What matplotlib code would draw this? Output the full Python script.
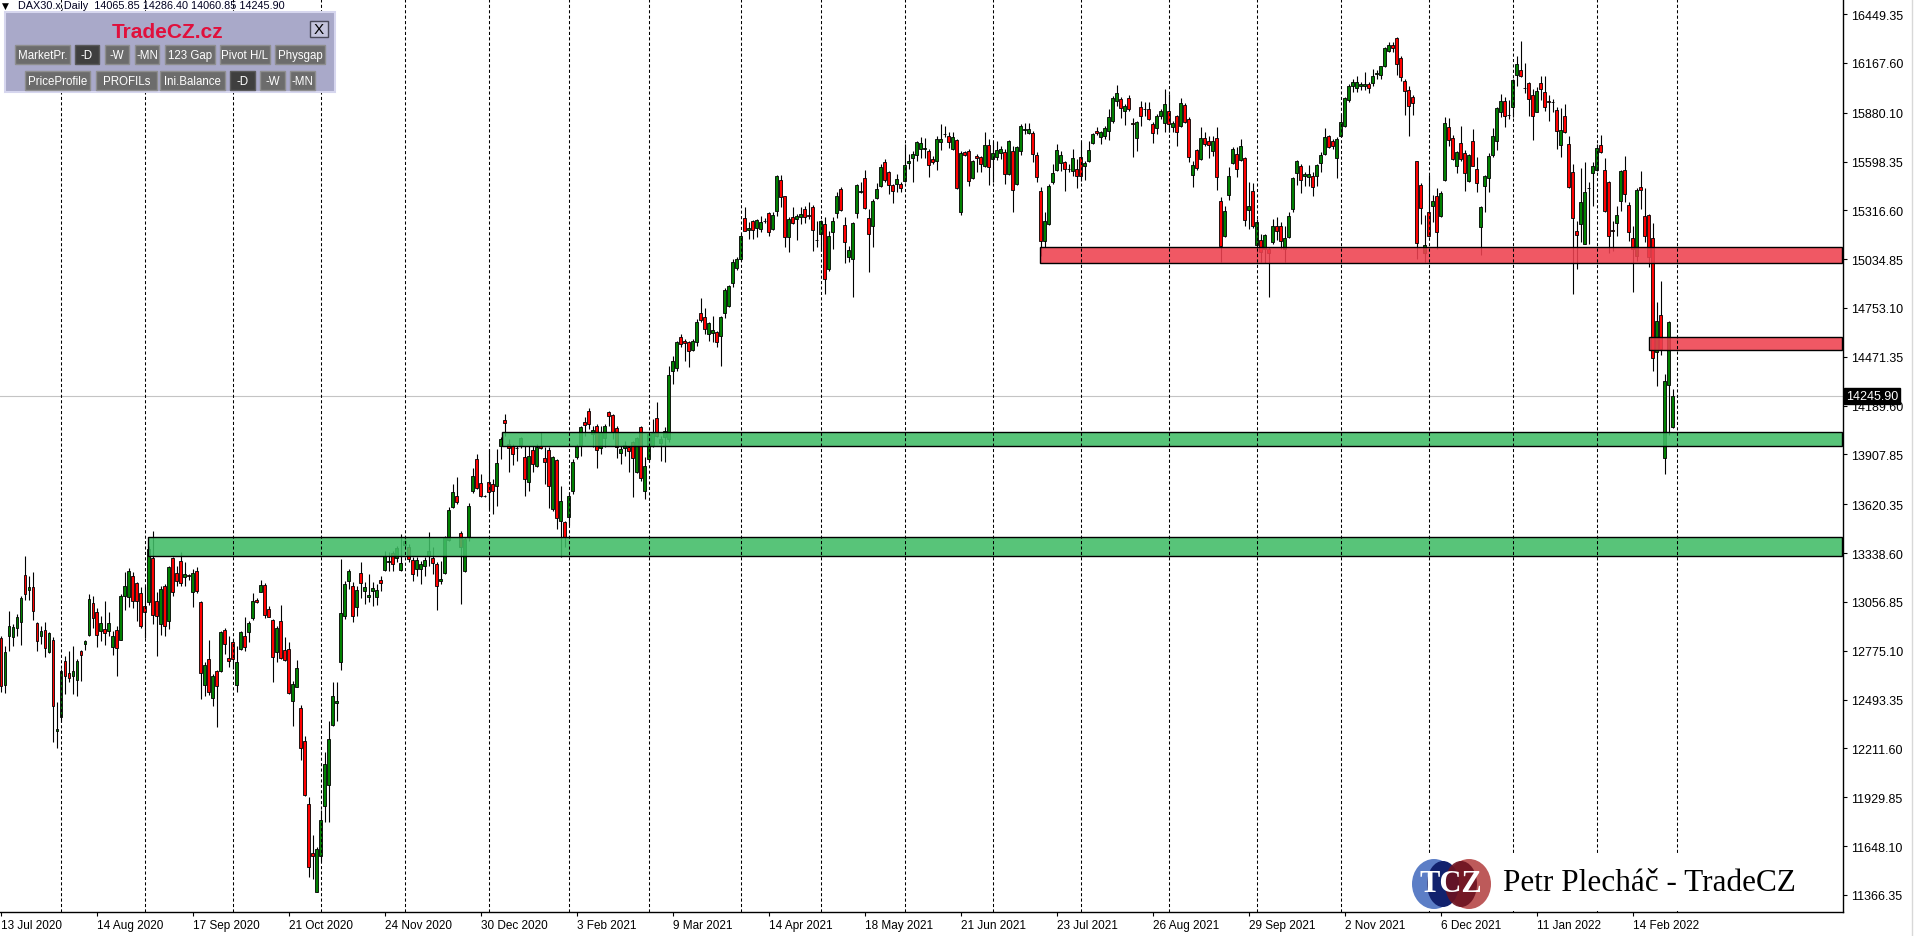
import numpy as np
import matplotlib
matplotlib.use('Agg')
import matplotlib.pyplot as plt
import matplotlib.transforms as mtransforms
from matplotlib.colors import to_rgba
from matplotlib.patches import Rectangle, Ellipse

plt.rcParams['font.family'] = ['Liberation Sans', 'DejaVu Sans']

# daily bars, 13 Jul 2020 .. 28 Feb 2022 (index = trading day)
opens = [
    12847, 12580, 12858, 12853, 12907, 12943, 13212, 13124, 13141, 12934,
    12858, 12895, 12766, 12837, 12310, 12395, 12714, 12645, 12628, 12608,
    12772, 12814, 12866, 13051, 12997, 12887, 12901, 12891, 12799, 12895,
    12839, 13093, 13087, 13205, 13166, 13109, 13032, 13058, 13308, 13060,
    12930, 13151, 12945, 13308, 13224, 13291, 13199, 13208, 13112, 13237,
    13058, 12580, 12728, 12501, 12657, 12660, 12895, 12732, 12824, 12580,
    12785, 12858, 12882, 12964, 13068, 13116, 13155, 13016, 12953, 12766,
    12945, 12780, 12785, 12487, 12568, 12443, 12255, 11891, 11608, 11381,
    11589, 11878, 12003, 12349, 12474, 12708, 12978, 13180, 13147, 13030,
    13224, 13118, 13083, 13122, 13083, 13185, 13243, 13289, 13339, 13309,
    13241, 13385, 13376, 13299, 13247, 13247, 13266, 13324, 13309, 13276,
    13180, 13224, 13416, 13603, 13666, 13455, 13237, 13430, 13695, 13882,
    13741, 13668, 13751, 13737, 13728, 13959, 14107, 13968, 13959, 13945,
    13962, 13891, 13751, 13934, 13843, 13959, 13887, 13934, 13593, 13878,
    13522, 13516, 13549, 13699, 13895, 13959, 14093, 14161, 14026, 14074,
    13945, 14001, 14155, 14137, 14059, 13914, 13943, 13949, 13978, 13805,
    14064, 13699, 13882, 13959, 14116, 13972, 14007, 13997, 14391, 14405,
    14588, 14561, 14559, 14513, 14559, 14722, 14699, 14603, 14607, 14617,
    14590, 14722, 14766, 14895, 14982, 15036, 15272, 15205, 15253, 15213,
    15209, 15253, 15299, 15209, 15315, 15492, 15397, 15161, 15276, 15266,
    15276, 15324, 15288, 15334, 15147, 15180, 15238, 14978, 15190, 15299,
    15440, 15232, 15045, 15036, 15301, 15420, 15501, 15270, 15224, 15388,
    15455, 15593, 15536, 15463, 15469, 15469, 15484, 15590, 15617, 15636,
    15670, 15670, 15657, 15613, 15603, 15713, 15757, 15744, 15670, 15722,
    15309, 15655, 15661, 15503, 15632, 15626, 15574, 15693, 15613, 15626,
    15645, 15655, 15526, 15661, 15469, 15661, 15780, 15761, 15761, 15638,
    15430, 15141, 15237, 15478, 15551, 15590, 15593, 15553, 15541, 15555,
    15622, 15570, 15599, 15703, 15772, 15738, 15747, 15776, 15834, 15949,
    15959, 15892, 15963, 15818, 15732, 15911, 15901, 15901, 15815, 15790,
    15859, 15820, 15888, 15795, 15859, 15801, 15924, 15844, 15522, 15665,
    15613, 15734, 15715, 15657, 15732, 15368, 15170, 15405, 15588, 15641,
    15607, 15617, 15320, 15426, 15118, 15147, 15093, 15093, 15132, 15224,
    15228, 15093, 15161, 15324, 15530, 15570, 15513, 15511, 15513, 15516,
    15588, 15641, 15747, 15718, 15617, 15743, 15805, 15953, 16032, 16022,
    16032, 16032, 16045, 16049, 16103, 16099, 16147, 16234, 16270, 16309,
    16194, 16065, 16013, 15969, 15599, 15463, 15068, 15305, 15343, 15397,
    15282, 15493, 15795, 15734, 15574, 15703, 15645, 15488, 15715, 15555,
    15218, 15455, 15501, 15636, 15718, 15882, 15949, 15865, 15911, 16099,
    16126, 16022, 16049, 15982, 15886, 16049, 15997, 15945, 15940, 15895,
    15695, 15859, 15699, 15536, 15195, 15238, 15122, 15445, 15530, 15551,
    15695, 15551, 15482, 15201, 15241, 15368, 15551, 15349, 15155, 15055,
    15449, 15282, 15291, 15155, 14497, 14713, 13886, 14311, 14065.85,
]
highs = [
    12862, 12801, 13003, 12930, 12987, 13093, 13324, 13208, 13228, 12939,
    12920, 12939, 12885, 12853, 12478, 12670, 12747, 12772, 12801, 12728,
    12780, 12837, 13103, 13089, 13020, 12978, 13064, 12997, 12891, 12920,
    13103, 13228, 13253, 13232, 13170, 13141, 13151, 13380, 13468, 13112,
    13147, 13160, 13266, 13314, 13266, 13343, 13285, 13218, 13247, 13257,
    13064, 12708, 12837, 12641, 12666, 12891, 12906, 12862, 12843, 12805,
    12891, 12968, 12949, 13109, 13078, 13183, 13166, 13036, 12958, 12920,
    13039, 12853, 12824, 12603, 12722, 12462, 12285, 11930, 11712, 11641,
    11856, 12193, 12372, 12593, 12593, 13305, 13180, 13247, 13170, 13151,
    13285, 13170, 13218, 13170, 13160, 13209, 13349, 13343, 13353, 13382,
    13449, 13439, 13391, 13314, 13314, 13295, 13314, 13459, 13372, 13285,
    13295, 13439, 13603, 13737, 13776, 13468, 13430, 13628, 13828, 13911,
    13795, 13674, 13939, 13766, 13939, 14011, 14141, 13997, 13968, 13959,
    14007, 13959, 13959, 13959, 13968, 14035, 13949, 13949, 13901, 13882,
    13724, 13526, 13689, 13882, 13968, 14074, 14122, 14176, 14074, 14084,
    14074, 14084, 14160, 14141, 14074, 13959, 13987, 13959, 13987, 14007,
    14074, 13891, 14035, 14112, 14209, 14016, 14064, 14420, 14478, 14565,
    14603, 14574, 14565, 14574, 14690, 14811, 14753, 14674, 14709, 14622,
    14709, 14866, 14886, 15036, 15049, 15180, 15334, 15247, 15263, 15266,
    15282, 15272, 15309, 15305, 15520, 15520, 15401, 15276, 15338, 15295,
    15334, 15340, 15362, 15347, 15257, 15263, 15276, 15199, 15276, 15420,
    15449, 15276, 15113, 15251, 15469, 15482, 15549, 15324, 15382, 15474,
    15584, 15613, 15545, 15469, 15526, 15482, 15699, 15641, 15661, 15718,
    15738, 15732, 15670, 15632, 15747, 15815, 15805, 15767, 15767, 15728,
    15661, 15661, 15670, 15609, 15641, 15632, 15767, 15728, 15709, 15718,
    15690, 15670, 15724, 15690, 15690, 15815, 15820, 15820, 15776, 15651,
    15449, 15305, 15469, 15584, 15699, 15661, 15603, 15584, 15670, 15613,
    15709, 15603, 15715, 15763, 15795, 15776, 15805, 15901, 15978, 16040,
    15969, 15930, 15982, 15847, 15834, 15949, 15943, 15940, 15824, 15872,
    15901, 16016, 15988, 15834, 15867, 15963, 15936, 15853, 15603, 15670,
    15795, 15767, 15747, 15747, 15795, 15391, 15343, 15565, 15680, 15680,
    15728, 15622, 15478, 15474, 15266, 15180, 15180, 15103, 15266, 15276,
    15247, 15228, 15309, 15511, 15609, 15584, 15536, 15578, 15536, 15584,
    15651, 15792, 15751, 15728, 15738, 15872, 15969, 16045, 16074, 16093,
    16059, 16113, 16059, 16132, 16128, 16151, 16257, 16286, 16286, 16315,
    16209, 16074, 16036, 15982, 15603, 15474, 15290, 15522, 15405, 15443,
    15430, 15853, 15847, 15751, 15661, 15801, 15667, 15641, 15786, 15622,
    15343, 15522, 15645, 15790, 15911, 15988, 15969, 15953, 16074, 16209,
    16295, 16165, 16059, 16017, 16026, 16093, 16093, 15982, 15959, 15911,
    15905, 15930, 15747, 15584, 15257, 15559, 15593, 15478, 15593, 15699,
    15751, 15617, 15488, 15257, 15343, 15551, 15628, 15363, 15228, 15445,
    15545, 15445, 15295, 15241, 14786, 14907, 14372, 14676, 14286.40,
]
lows = [
    12535, 12531, 12776, 12805, 12862, 12810, 13066, 13066, 12955, 12776,
    12814, 12737, 12762, 12251, 12212, 12362, 12526, 12597, 12526, 12516,
    12603, 12782, 12858, 12907, 12795, 12830, 12810, 12858, 12753, 12632,
    12839, 13010, 13030, 13020, 12949, 12905, 12847, 13040, 12930, 12747,
    12866, 12858, 12901, 13093, 13151, 13147, 13147, 13185, 13030, 13109,
    12497, 12516, 12520, 12458, 12337, 12651, 12757, 12680, 12670, 12539,
    12782, 12776, 12828, 12955, 13051, 13112, 12964, 12968, 12597, 12708,
    12728, 12718, 12526, 12343, 12564, 12145, 11939, 11468, 11458, 11381,
    11555, 11785, 11785, 12339, 12372, 12664, 12958, 13132, 12939, 12978,
    13078, 13045, 13055, 13036, 13039, 13122, 13234, 13237, 13237, 13285,
    13237, 13362, 13285, 13180, 13209, 13160, 13209, 13266, 13218, 13010,
    13160, 13218, 13411, 13597, 13622, 13045, 13232, 13411, 13683, 13709,
    13661, 13662, 13593, 13564, 13612, 13882, 14016, 13805, 13847, 13872,
    13943, 13670, 13699, 13805, 13837, 13939, 13737, 13597, 13583, 13478,
    13314, 13372, 13501, 13680, 13882, 13901, 14016, 14055, 13949, 13828,
    13911, 13949, 14074, 13997, 13886, 13853, 13901, 13805, 13664, 13799,
    13757, 13651, 13872, 13949, 14007, 13872, 13866, 13978, 14315, 14391,
    14526, 14449, 14411, 14507, 14536, 14674, 14603, 14565, 14559, 14526,
    14420, 14693, 14757, 14876, 14974, 15026, 15195, 15151, 15151, 15161,
    15190, 15241, 15170, 15203, 15286, 15338, 15107, 15074, 15238, 15147,
    15238, 15243, 15266, 15084, 15103, 15084, 14834, 14968, 15093, 15270,
    15315, 15011, 15016, 14815, 15272, 15417, 15324, 14963, 15103, 15382,
    15449, 15482, 15411, 15357, 15424, 15420, 15478, 15555, 15478, 15603,
    15617, 15617, 15507, 15584, 15549, 15667, 15738, 15674, 15667, 15440,
    15290, 15632, 15459, 15497, 15536, 15536, 15565, 15463, 15478, 15607,
    15613, 15469, 15520, 15305, 15463, 15636, 15757, 15757, 15594, 15478,
    15055, 15103, 15232, 15468, 15545, 15545, 15426, 15536, 15516, 15443,
    15488, 15493, 15593, 15699, 15751, 15699, 15728, 15724, 15818, 15917,
    15847, 15809, 15892, 15626, 15661, 15805, 15863, 15840, 15703, 15757,
    15844, 15767, 15767, 15770, 15690, 15795, 15820, 15593, 15453, 15551,
    15607, 15686, 15617, 15632, 15436, 15020, 15161, 15378, 15584, 15507,
    15599, 15228, 15209, 15213, 15045, 15016, 15013, 14814, 15122, 15147,
    15093, 15016, 15155, 15305, 15463, 15417, 15459, 15459, 15401, 15459,
    15536, 15638, 15674, 15670, 15501, 15738, 15799, 15944, 16001, 15997,
    16011, 16011, 15992, 16036, 16074, 16074, 16142, 16228, 16228, 16099,
    16065, 15867, 15747, 15867, 15036, 15238, 15016, 15161, 15251, 15093,
    15276, 15488, 15686, 15607, 15532, 15603, 15430, 15478, 15570, 15424,
    15059, 15305, 15424, 15622, 15667, 15853, 15799, 15843, 15853, 16036,
    16088, 15994, 15863, 15724, 15882, 15955, 15892, 15834, 15882, 15670,
    15626, 15763, 15443, 14834, 14978, 15132, 15122, 15122, 15343, 15545,
    15647, 15309, 15068, 15084, 15170, 15315, 15363, 15138, 14843, 15022,
    15324, 15132, 14988, 14391, 14305, 14482, 13795, 14022, 14060.85,
]
closes = [
    12574, 12766, 12916, 12912, 12968, 13078, 13101, 13141, 13003, 12834,
    12887, 12791, 12876, 12458, 12324, 12657, 12632, 12616, 12657, 12714,
    12753, 12830, 13074, 12962, 12868, 12934, 12876, 12934, 12858, 12791,
    13089, 13147, 13237, 13064, 13064, 12920, 12997, 13362, 12982, 12974,
    13132, 12916, 13257, 13112, 13176, 13164, 13218, 13206, 13224, 13118,
    12645, 12693, 12539, 12630, 12570, 12882, 12814, 12718, 12728, 12708,
    12882, 12795, 12934, 13060, 13055, 13155, 12984, 12972, 12741, 12907,
    12732, 12722, 12531, 12584, 12674, 12212, 11943, 11526, 11589, 11631,
    11799, 12122, 12266, 12512, 12487, 12991, 13160, 13234, 12978, 13126,
    13164, 13141, 13097, 13135, 13128, 13164, 13324, 13295, 13276, 13370,
    13282, 13407, 13305, 13218, 13301, 13276, 13301, 13349, 13282, 13151,
    13189, 13430, 13587, 13689, 13632, 13372, 13420, 13608, 13782, 13714,
    13666, 13666, 13689, 13699, 13859, 13997, 14087, 13943, 13909, 13943,
    14001, 13766, 13897, 13853, 13949, 13943, 13862, 13728, 13891, 13539,
    13641, 13430, 13666, 13866, 13955, 14064, 14078, 14084, 14051, 13934,
    14039, 14074, 14128, 14039, 13949, 13939, 13964, 13926, 13886, 14001,
    13770, 13843, 14026, 14030, 14016, 13997, 14045, 14366, 14449, 14555,
    14545, 14551, 14507, 14565, 14674, 14686, 14632, 14665, 14626, 14559,
    14703, 14857, 14878, 15016, 15036, 15170, 15199, 15215, 15203, 15263,
    15247, 15254, 15193, 15290, 15513, 15392, 15161, 15266, 15243, 15282,
    15295, 15276, 15284, 15203, 15143, 15257, 14920, 15170, 15257, 15401,
    15318, 15132, 15090, 15241, 15463, 15430, 15330, 15180, 15368, 15440,
    15565, 15492, 15463, 15426, 15497, 15444, 15578, 15603, 15642, 15709,
    15705, 15674, 15578, 15593, 15728, 15728, 15755, 15709, 15738, 15443,
    15647, 15638, 15488, 15599, 15617, 15584, 15695, 15568, 15645, 15666,
    15670, 15526, 15719, 15434, 15684, 15801, 15786, 15786, 15642, 15507,
    15141, 15257, 15455, 15530, 15667, 15636, 15555, 15555, 15617, 15513,
    15516, 15588, 15667, 15757, 15761, 15767, 15790, 15857, 15963, 15992,
    15907, 15917, 15901, 15815, 15824, 15859, 15899, 15844, 15761, 15859,
    15888, 15930, 15815, 15818, 15767, 15934, 15828, 15622, 15578, 15559,
    15734, 15697, 15695, 15715, 15507, 15113, 15311, 15513, 15670, 15555,
    15686, 15263, 15343, 15228, 15247, 15078, 15176, 15068, 15224, 15199,
    15138, 15155, 15282, 15501, 15599, 15493, 15526, 15526, 15449, 15578,
    15636, 15738, 15680, 15690, 15728, 15828, 15963, 16036, 16059, 16055,
    16045, 16045, 16020, 16090, 16105, 16147, 16251, 16270, 16251, 16161,
    16084, 16007, 15917, 15936, 15126, 15328, 15117, 15167, 15368, 15190,
    15415, 15818, 15722, 15613, 15651, 15613, 15530, 15638, 15574, 15472,
    15334, 15517, 15632, 15747, 15905, 15949, 15863, 15867, 16068, 16161,
    16094, 16020, 15959, 15863, 16007, 16017, 15911, 15940, 15943, 15776,
    15780, 15767, 15453, 15270, 15176, 15367, 15420, 15443, 15570, 15674,
    15651, 15315, 15167, 15197, 15291, 15545, 15411, 15190, 15093, 15434,
    15436, 15167, 15045, 14463, 14676, 14517, 14330, 14670, 14245.90,
]

tick_labels = ['13 Jul 2020', '14 Aug 2020', '17 Sep 2020', '21 Oct 2020', '24 Nov 2020',
               '30 Dec 2020', '3 Feb 2021', '9 Mar 2021', '14 Apr 2021', '18 May 2021',
               '21 Jun 2021', '23 Jul 2021', '26 Aug 2021', '29 Sep 2021', '2 Nov 2021',
               '6 Dec 2021', '11 Jan 2022', '14 Feb 2022']
tick_pos = [24 * k for k in range(len(tick_labels))]

# first bar of each month (period separators)
month_starts = [15, 36, 58, 80, 101, 122, 142, 162, 185, 205, 226, 248, 270,
                292, 314, 335, 357, 378, 399, 419]

price_ticks = [16449.35, 16167.60, 15880.10, 15598.35, 15316.60, 15034.85, 14753.10,
               14471.35, 14189.60, 13907.85, 13620.35, 13338.60, 13056.85, 12775.10,
               12493.35, 12211.60, 11929.85, 11648.10, 11366.35]

# support / resistance boxes: start bar, low, high
zones = [
    (36.7, 13320, 13430, '#41bc66'),
    (125.4, 13959, 14039, '#41bc66'),
    (259.7, 15011, 15103, '#ee414f'),
    (412.1, 14513, 14584, '#ee414f'),
]
last_price = 14245.90

W, H = 1915, 937
fig = plt.figure(figsize=(W / 100, H / 100), dpi=100)
fig.patch.set_facecolor('white')
ax = fig.add_axes([0, 24 / H, 1843 / W, 913 / H])

n = min(len(opens), len(highs), len(lows), len(closes))
o = np.array(opens[:n], float)
h = np.array(highs[:n], float)
l = np.array(lows[:n], float)
c = np.array(closes[:n], float)
x = np.arange(n)
up = c >= o

ax.axhline(last_price, color='#c4c4c4', lw=0.8, zorder=1)

ax.vlines(x, l, h, color='black', linewidth=0.8, zorder=2)
bot = np.minimum(o, c)
hgt = np.maximum(np.abs(c - o), 4.0)
ax.bar(x[up], hgt[up], bottom=bot[up], width=0.74, color='#008000',
       edgecolor='black', linewidth=0.6, zorder=3)
ax.bar(x[~up], hgt[~up], bottom=bot[~up], width=0.74, color='#ff0000',
       edgecolor='black', linewidth=0.6, zorder=3)

x_right = 460.3
for x0, lo, hi, col in zones:
    ax.add_patch(Rectangle((x0, lo), x_right - x0, hi - lo, facecolor=to_rgba(col, 0.88),
                           edgecolor='black', linewidth=1.0, zorder=4))

for m in month_starts:
    ax.axvline(m, color='black', lw=0.75, linestyle=(0, (3, 2.2)), zorder=5)

ax.set_xlim(-0.25, 460.6)
ax.set_ylim(11268, 16536)
for s in ['top', 'left']:
    ax.spines[s].set_visible(False)
for s in ['right', 'bottom']:
    ax.spines[s].set_color('black')
    ax.spines[s].set_linewidth(1.0)

ax.yaxis.tick_right()
ax.set_yticks(price_ticks)
ax.set_yticklabels([f'{v:.2f}' for v in price_ticks], fontsize=9)
ax.tick_params(axis='y', direction='out', length=3, width=0.8, pad=3, colors='black')
ax.set_xticks(tick_pos)
ax.set_xticklabels(tick_labels, fontsize=8.5, ha='left')
ax.tick_params(axis='x', direction='out', length=3, width=0.8, pad=2, colors='black')

blend = mtransforms.blended_transform_factory(ax.transAxes, ax.transData)
ax.text(1.0015, last_price, f'{last_price:.2f}', transform=blend, ha='left', va='center',
        color='white', fontsize=9, zorder=20, clip_on=False,
        bbox=dict(boxstyle='square,pad=0.18', fc='black', ec='black'))

# overlay in pixel coordinates for the panel, header and logo
ov = fig.add_axes([0, 0, 1, 1])
ov.set_xlim(0, W)
ov.set_ylim(H, 0)
ov.axis('off')
ov.set_zorder(10)
ov.patch.set_alpha(0)

ov.text(2, 6, '\u25bc', fontsize=6.5, va='center', ha='left', family=['DejaVu Sans'])
ov.text(18, 6, 'DAX30.x,Daily  14065.85 14286.40 14060.85 14245.90', fontsize=7.8,
        va='center', ha='left', color='#000020')

ov.add_patch(Rectangle((5, 13), 330, 80, fc='#a9a9c9', ec='#d6d6ee', lw=1.5))
ov.text(168, 32, 'TradeCZ.cz', color='#e0103c', fontsize=15, weight='bold',
        ha='center', va='center')
ov.add_patch(Rectangle((310, 22), 18, 16, fc='#c4c4dc', ec='#4a4a5a', lw=1))
ov.text(319, 30.5, 'X', fontsize=11, ha='center', va='center', color='black')

buttons = [
    ('MarketPr.', 15, 70, 0, False), ('-D', 75, 99, 0, True), ('-W', 105, 129, 0, False),
    ('-MN', 135, 159, 0, False), ('123 Gap', 165, 215, 0, False),
    ('Pivot H/L', 220, 270, 0, False), ('Physgap', 275, 325, 0, False),
    ('PriceProfile', 25, 90, 1, False), ('PROFILs', 96, 157, 1, False),
    ('Ini.Balance', 160, 225, 1, False), ('-D', 230, 255, 1, True),
    ('-W', 260, 285, 1, False), ('-MN', 290, 315, 1, False),
]
for label, x0, x1, row, pressed in buttons:
    y0 = 46 if row == 0 else 72
    rect = Rectangle((x0, y0), x1 - x0, 19, fc='#3f3f3f' if pressed else '#6c6c6c',
                     ec='#8e8e8e' if not pressed else '#5a5a5a', lw=1)
    ov.add_patch(rect)
    t = ov.text((x0 + x1) / 2, y0 + 10, label, fontsize=8.3, color='white',
                ha='center', va='center')
    t.set_clip_path(rect)

# logo
ov.add_patch(Rectangle((1405, 855), 432, 57, fc='white', ec='none'))
ov.add_patch(Ellipse((1434, 885), 44, 50, fc='#5c7ec6', ec='none'))
ov.add_patch(Ellipse((1469, 885), 44, 50, fc='#bd5a5a', ec='none'))
ov.add_patch(Ellipse((1443, 885), 32, 46, fc='#12226e', ec='none'))
ov.add_patch(Ellipse((1461, 885), 32, 46, fc='#6c1220', ec='none', alpha=0.9))
ov.text(1451, 885, 'TCZ', fontsize=22, weight='bold', color='white', ha='center',
        va='center', family=['Liberation Serif', 'DejaVu Serif'])
ov.text(1503, 884, 'Petr Plecháč - TradeCZ', fontsize=22.5, color='black', ha='left',
        va='center', family=['Liberation Serif', 'DejaVu Serif'])

ov.plot([1912.5, 1912.5], [0, H], color='#d8d8d8', lw=1)

fig.savefig('out.png', dpi=100, facecolor='white')
